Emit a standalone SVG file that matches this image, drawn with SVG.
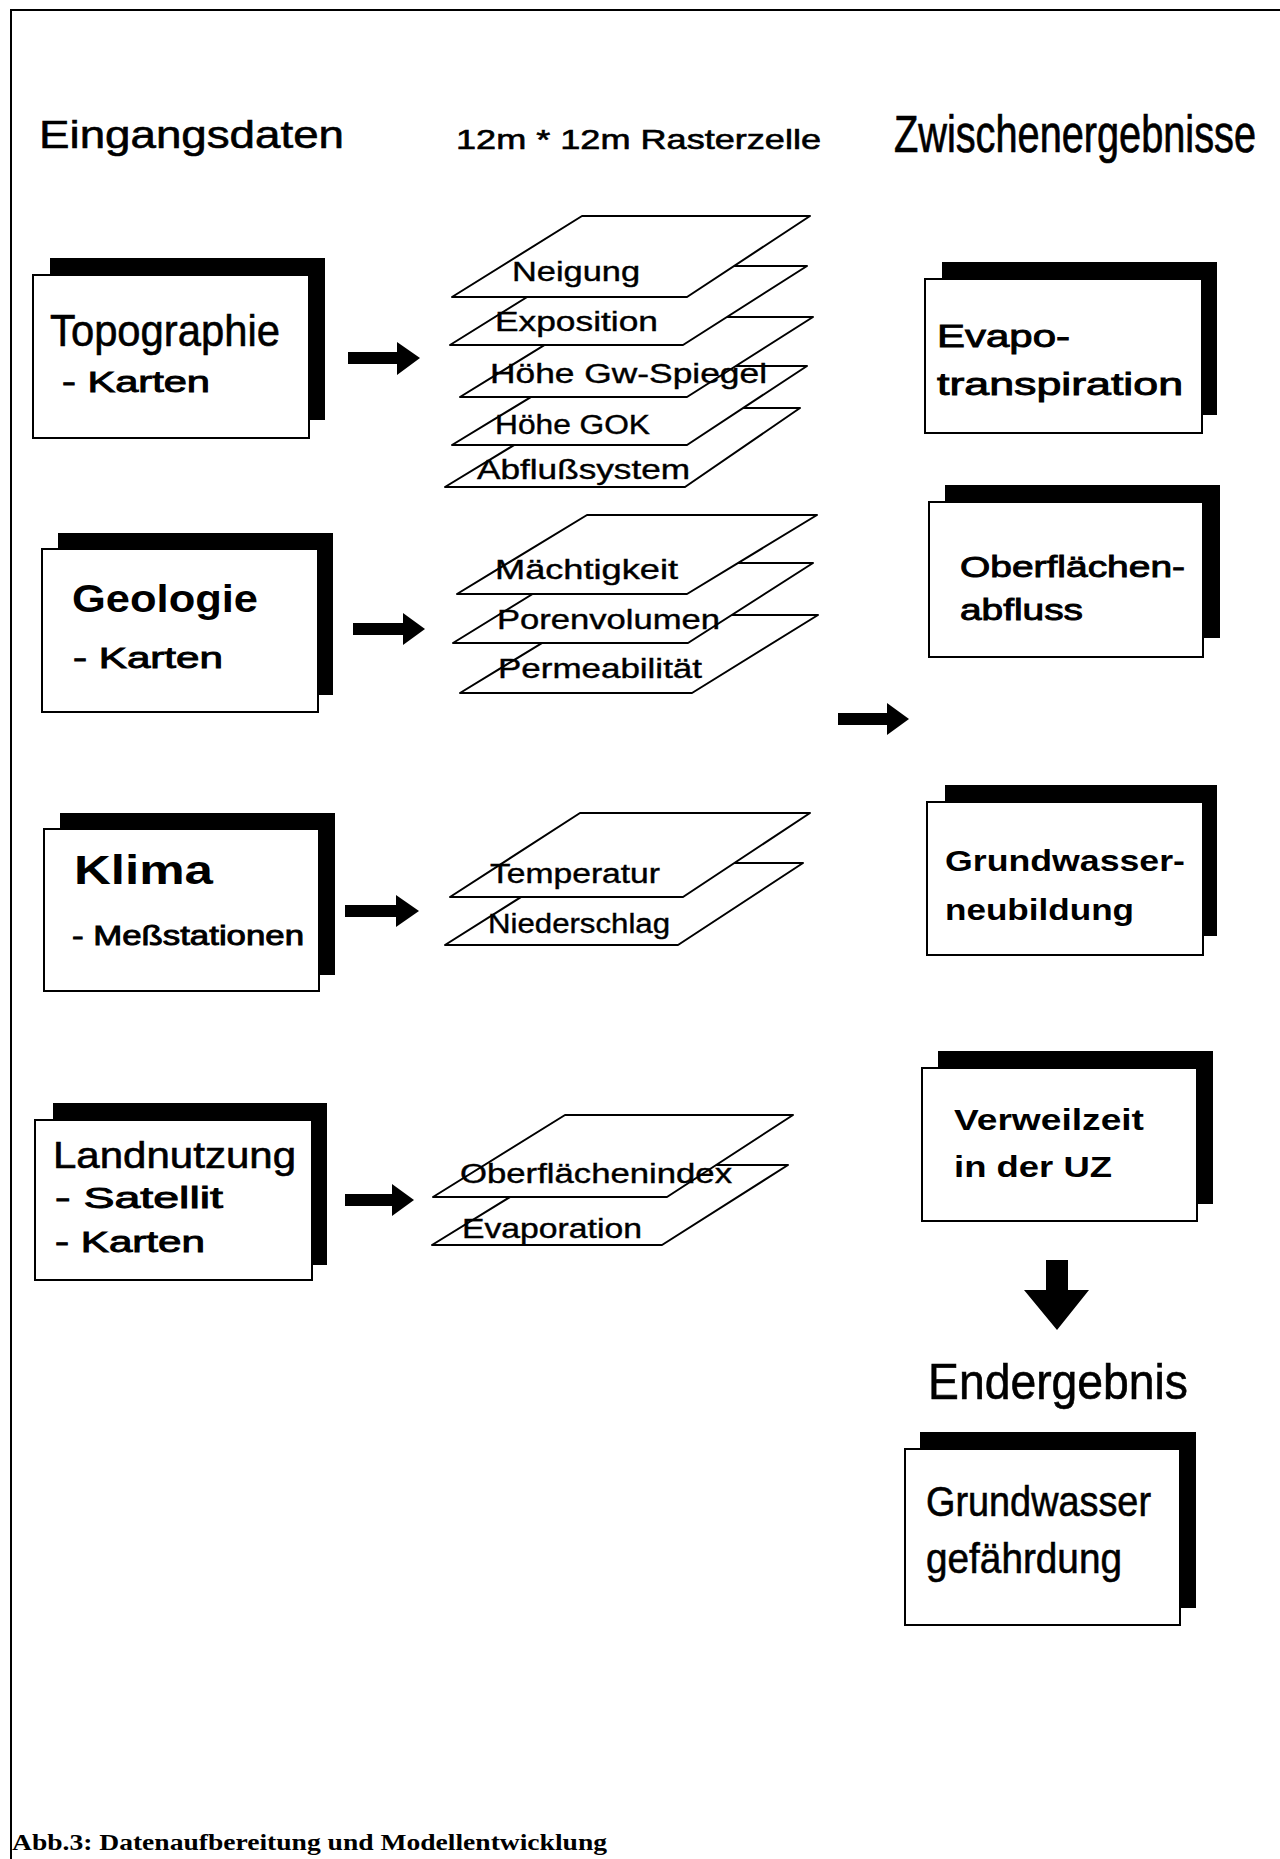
<svg xmlns="http://www.w3.org/2000/svg" width="1280" height="1859" viewBox="0 0 1280 1859">
<style>
.bg{fill:#fff}
.frame{stroke:#000;stroke-width:2;fill:none}
.shadow{fill:#000}
.box{fill:#fff;stroke:#000;stroke-width:2}
.plane{fill:#fff;stroke:#000;stroke-width:2;stroke-linejoin:round}
.arrow{fill:#000}
.t{font-family:"Liberation Sans",Arial,sans-serif;fill:#000}
.m{stroke:#000;stroke-width:0.6}
.mb{stroke:#000;stroke-width:0.9}
.b{font-weight:bold}
.lay{font-family:"Liberation Sans",Arial,sans-serif;font-size:27px;fill:#000;stroke:#000;stroke-width:0.4}
.cap{font-family:"Liberation Serif","Times New Roman",serif;font-weight:bold;font-size:24px;fill:#000}
</style>
<rect class="bg" x="0" y="0" width="1280" height="1859"/>
<g id="frame">
<path class="frame" d="M10,10 H1280 M11,10 V1859"/>
</g>
<g id="headers">
<text class="t m" x="39" y="148" font-size="38" textLength="305" lengthAdjust="spacingAndGlyphs">Eingangsdaten</text>
<text class="t m" x="456" y="149" font-size="28" textLength="365" lengthAdjust="spacingAndGlyphs">12m * 12m Rasterzelle</text>
<text class="t m" transform="translate(894,152) scale(1,1.24)" x="0" y="0" font-size="42" textLength="362" lengthAdjust="spacingAndGlyphs">Zwischenergebnisse</text>
</g>
<g id="node-topographie">
<rect class="shadow" x="50" y="258" width="275" height="162"/>
<rect class="box" x="33" y="275" width="276" height="163"/>
<text class="t m" x="50" y="346" font-size="44" textLength="230" lengthAdjust="spacingAndGlyphs">Topographie</text>
<text class="t mb" x="62" y="392" font-size="29" textLength="148" lengthAdjust="spacingAndGlyphs">- Karten</text>
</g>
<g id="node-geologie">
<rect class="shadow" x="58" y="533" width="275" height="162"/>
<rect class="box" x="42" y="549" width="276" height="163"/>
<text class="t b" x="72" y="612" font-size="38" textLength="186" lengthAdjust="spacingAndGlyphs">Geologie</text>
<text class="t mb" x="73" y="668" font-size="29" textLength="150" lengthAdjust="spacingAndGlyphs">- Karten</text>
</g>
<g id="node-klima">
<rect class="shadow" x="60" y="813" width="275" height="162"/>
<rect class="box" x="44" y="829" width="275" height="162"/>
<text class="t b" x="74" y="884" font-size="40" textLength="139" lengthAdjust="spacingAndGlyphs">Klima</text>
<text class="t mb" x="72" y="945" font-size="27" textLength="232" lengthAdjust="spacingAndGlyphs">- Meßstationen</text>
</g>
<g id="node-landnutzung">
<rect class="shadow" x="53" y="1103" width="274" height="162"/>
<rect class="box" x="35" y="1120" width="277" height="160"/>
<text class="t m" x="53" y="1168" font-size="37" textLength="243" lengthAdjust="spacingAndGlyphs">Landnutzung</text>
<text class="t mb" x="55" y="1208" font-size="29" textLength="168" lengthAdjust="spacingAndGlyphs">- Satellit</text>
<text class="t mb" x="55" y="1252" font-size="29" textLength="150" lengthAdjust="spacingAndGlyphs">- Karten</text>
</g>
<g id="stack-topographie">
<polygon class="plane" points="575,408 800,408 685,487 445,487"/>
<polygon class="plane" points="582,366 807,366 687,445 452,445"/>
<polygon class="plane" points="590,317 813,317 687,397 460,397"/>
<polygon class="plane" points="577,266 807,266 683,345 450,345"/>
<polygon class="plane" points="582,216 810,216 687,297 452,297"/>
<text class="lay" x="512" y="281" textLength="128" lengthAdjust="spacingAndGlyphs">Neigung</text>
<text class="lay" x="495" y="331" textLength="163" lengthAdjust="spacingAndGlyphs">Exposition</text>
<text class="lay" x="490" y="383" textLength="277" lengthAdjust="spacingAndGlyphs">Höhe Gw-Spiegel</text>
<text class="lay" x="495" y="434" textLength="155" lengthAdjust="spacingAndGlyphs">Höhe GOK</text>
<text class="lay" x="477" y="479" textLength="213" lengthAdjust="spacingAndGlyphs">Abflußsystem</text>
</g>
<g id="stack-geologie">
<polygon class="plane" points="588,615 818,615 692,693 460,693"/>
<polygon class="plane" points="583,563 813,563 688,643 453,643"/>
<polygon class="plane" points="587,515 817,515 687,594 457,594"/>
<text class="lay" x="495" y="579" textLength="183" lengthAdjust="spacingAndGlyphs">Mächtigkeit</text>
<text class="lay" x="497" y="629" textLength="223" lengthAdjust="spacingAndGlyphs">Porenvolumen</text>
<text class="lay" x="498" y="678" textLength="204" lengthAdjust="spacingAndGlyphs">Permeabilität</text>
</g>
<g id="stack-klima">
<polygon class="plane" points="575,863 803,863 678,945 445,945"/>
<polygon class="plane" points="580,813 810,813 683,897 450,897"/>
<text class="lay" x="490" y="883" textLength="170" lengthAdjust="spacingAndGlyphs">Temperatur</text>
<text class="lay" x="488" y="933" textLength="182" lengthAdjust="spacingAndGlyphs">Niederschlag</text>
</g>
<g id="stack-landnutzung">
<polygon class="plane" points="562,1165 788,1165 662,1245 432,1245"/>
<polygon class="plane" points="565,1115 793,1115 667,1197 433,1197"/>
<text class="lay" x="460" y="1183" textLength="272" lengthAdjust="spacingAndGlyphs">Oberflächenindex</text>
<text class="lay" x="462" y="1238" textLength="180" lengthAdjust="spacingAndGlyphs">Evaporation</text>
</g>
<g id="node-evapotranspiration">
<rect class="shadow" x="942" y="262" width="275" height="153"/>
<rect class="box" x="925" y="279" width="277" height="154"/>
<text class="t mb" x="937" y="347" font-size="31" textLength="133" lengthAdjust="spacingAndGlyphs">Evapo-</text>
<text class="t mb" x="937" y="395" font-size="31" textLength="246" lengthAdjust="spacingAndGlyphs">transpiration</text>
</g>
<g id="node-oberflaechenabfluss">
<rect class="shadow" x="945" y="485" width="275" height="153"/>
<rect class="box" x="929" y="502" width="274" height="155"/>
<text class="t mb" x="960" y="577" font-size="29" textLength="225" lengthAdjust="spacingAndGlyphs">Oberflächen-</text>
<text class="t mb" x="960" y="620" font-size="29" textLength="123" lengthAdjust="spacingAndGlyphs">abfluss</text>
</g>
<g id="node-grundwasserneubildung">
<rect class="shadow" x="945" y="785" width="272" height="151"/>
<rect class="box" x="927" y="802" width="276" height="153"/>
<text class="t b" x="945" y="871" font-size="29" textLength="240" lengthAdjust="spacingAndGlyphs">Grundwasser-</text>
<text class="t b" x="945" y="920" font-size="29" textLength="189" lengthAdjust="spacingAndGlyphs">neubildung</text>
</g>
<g id="node-verweilzeit">
<rect class="shadow" x="938" y="1051" width="275" height="153"/>
<rect class="box" x="922" y="1068" width="275" height="153"/>
<text class="t b" x="954" y="1130" font-size="29" textLength="190" lengthAdjust="spacingAndGlyphs">Verweilzeit</text>
<text class="t b" x="954" y="1177" font-size="29" textLength="158" lengthAdjust="spacingAndGlyphs">in der UZ</text>
</g>
<g id="label-endergebnis">
<text class="t m" x="928" y="1399" font-size="50" textLength="260" lengthAdjust="spacingAndGlyphs">Endergebnis</text>
</g>
<g id="node-grundwassergefaehrdung">
<rect class="shadow" x="920" y="1432" width="276" height="176"/>
<rect class="box" x="905" y="1449" width="275" height="176"/>
<text class="t m" x="926" y="1516" font-size="42" textLength="225" lengthAdjust="spacingAndGlyphs">Grundwasser</text>
<text class="t m" x="926" y="1573" font-size="42" textLength="196" lengthAdjust="spacingAndGlyphs">gefährdung</text>
</g>
<g id="connectors">
<path class="arrow" d="M348,352 H397 V342 L420,358 L397,375 V364 H348 Z"/>
<path class="arrow" d="M353,623 H403 V613 L425,629 L403,645 V635 H353 Z"/>
<path class="arrow" d="M345,905 H396 V895 L419,911 L396,927 V917 H345 Z"/>
<path class="arrow" d="M345,1194 H392 V1184 L414,1200 L392,1216 V1206 H345 Z"/>
<path class="arrow" d="M838,713 H887 V703 L909,719 L887,735 V725 H838 Z"/>
<path class="arrow" d="M1046,1260 H1068 V1290 H1089 L1057,1330 L1024,1290 H1046 Z"/>
</g>
<g id="caption">
<text class="cap" x="12" y="1850" textLength="595" lengthAdjust="spacingAndGlyphs">Abb.3: Datenaufbereitung und Modellentwicklung</text>
</g>
</svg>
